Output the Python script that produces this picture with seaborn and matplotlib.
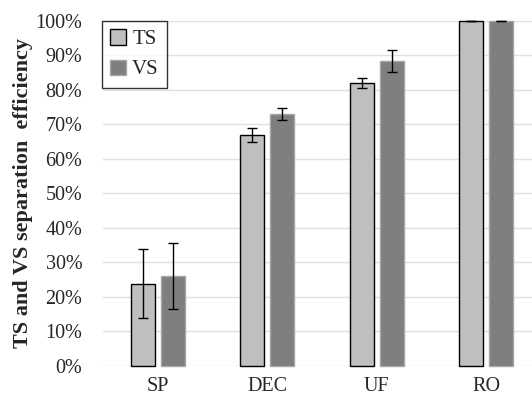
import pandas as pd
import matplotlib
matplotlib.use('Agg')
import matplotlib.pyplot as plt
import seaborn as sns

# Data
categories = ['SP', 'DEC', 'UF', 'RO']
ts_values = [23.8, 67.0, 82.0, 100.0]
vs_values = [26.0, 73.0, 88.3, 100.0]
ts_errors = [10.0, 2.0, 1.5, 0.1]
vs_errors = [9.6, 1.8, 3.2, 0.1]

df = pd.DataFrame({
    'process': categories * 2,
    'value': ts_values + vs_values,
    'series': ['TS'] * 4 + ['VS'] * 4,
})

sns.set_style('white')
plt.rcParams['font.family'] = ['Liberation Serif', 'DejaVu Serif']

fig = plt.figure(figsize=(5.32, 4.03), dpi=100)
ax = fig.add_axes([0.194, 0.092, 0.806, 0.856])

sns.barplot(data=df, x='process', y='value', hue='series',
            palette={'TS': '#bfbfbf', 'VS': '#7f7f7f'},
            width=0.552, gap=0.2, errorbar=None, ax=ax, zorder=2)

# edges and error bars, positioned from the drawn bars
errs = {'TS': ts_errors, 'VS': vs_errors}
for container, name in zip(ax.containers, ['TS', 'VS']):
    for bar, err in zip(container, errs[name]):
        if name == 'TS':
            bar.set_edgecolor('black')
        else:
            bar.set_edgecolor('#a6a6a6')
        bar.set_linewidth(1.0)
        bar.set_clip_on(False)
        x = bar.get_x() + bar.get_width() / 2
        eb = ax.errorbar(x, bar.get_height(), yerr=err, color='black',
                         linewidth=1.0, capsize=3.5, capthick=1.0, zorder=3)
        for artist in eb.lines[1] + eb.lines[2]:
            artist.set_clip_on(False)

ax.set_ylim(0, 100)
ax.set_xlim(-0.5, 3.42)
ax.set_yticks(range(0, 101, 10))
ax.set_yticklabels([f'{v}%' for v in range(0, 101, 10)], fontsize=14.5)
ax.tick_params(axis='x', labelsize=14.5, length=0, pad=8)
ax.tick_params(axis='y', length=0, pad=15)
ax.yaxis.grid(True, color='#e0e0e0', linewidth=1.0, zorder=0)
ax.set_axisbelow(True)
for s in ax.spines.values():
    s.set_visible(False)

ax.set_xlabel('')
ax.set_ylabel('TS and VS separation  efficiency', fontsize=16, fontweight='bold',
              labelpad=2)

leg = ax.legend(loc='upper left', bbox_to_anchor=(-0.003, 1.0), fontsize=15,
                frameon=True, fancybox=False, edgecolor='black',
                handlelength=0.75, handleheight=0.75, handletextpad=0.3,
                borderpad=0.4, labelspacing=0.5, borderaxespad=0)
leg.get_frame().set_linewidth(1.0)
leg.legend_handles[0].set_edgecolor('black')
leg.legend_handles[1].set_edgecolor('#a6a6a6')

fig.savefig('out.png', dpi=100)
